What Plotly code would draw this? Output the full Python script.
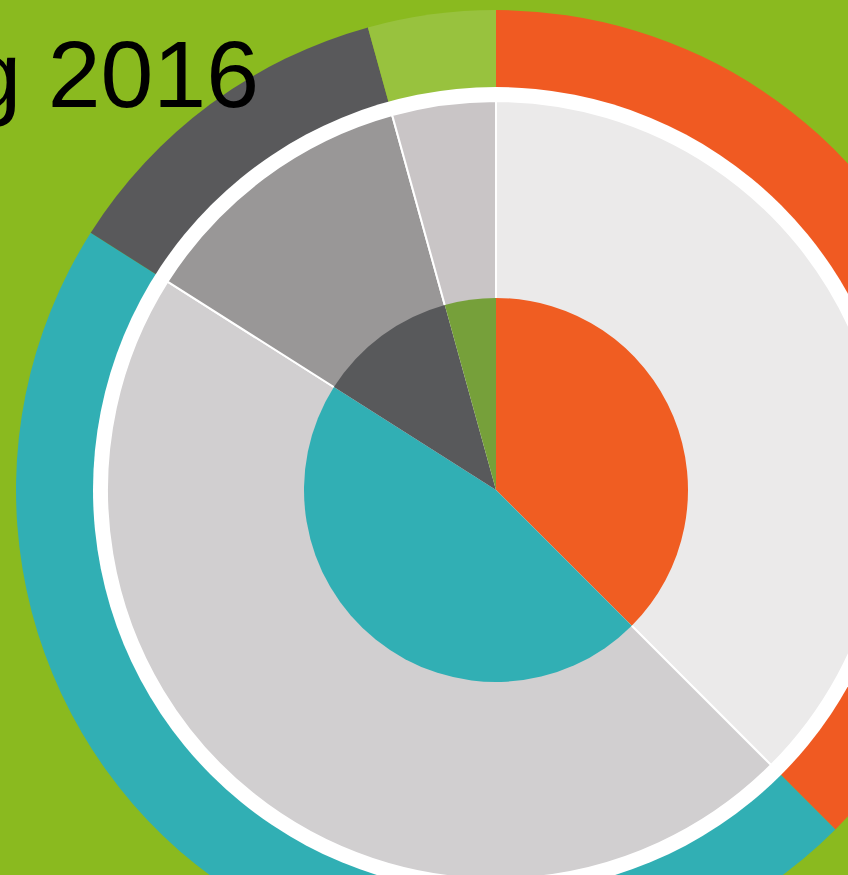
import plotly.graph_objects as go

# Data
categories = ["Orange", "Teal", "Dark grey", "Green"]
values = [37.5, 46.5, 11.7, 4.3]
outer_colors = ["#f05a22", "#31afb4", "#59595b", "#98c23e"]
middle_colors = ["#ebeaea", "#d1cfd0", "#999797", "#c9c5c6"]
inner_colors = ["#f05d22", "#31afb4", "#58595b", "#76a03a"]
title_text = "Funding 2016"

W, H = 1000, 1000
CX, CY = 496, 490  # centre in page pixels (from top-left)


def dom(r):
    return dict(x=[(CX - r) / W, (CX + r) / W],
                y=[(H - CY - r) / H, (H - CY + r) / H])


common = dict(sort=False, direction="clockwise", rotation=0,
              textinfo="none", hoverinfo="skip", showlegend=False)

fig = go.Figure()
fig.add_trace(go.Pie(labels=categories, values=values, domain=dom(480),
                     marker=dict(colors=outer_colors, line=dict(width=0)), **common))
fig.add_trace(go.Pie(labels=["ring"], values=[1], domain=dom(403),
                     marker=dict(colors=["#ffffff"], line=dict(width=0)), **common))
fig.add_trace(go.Pie(labels=categories, values=values, domain=dom(389),
                     marker=dict(colors=middle_colors, line=dict(color="#ffffff", width=2)), **common))
fig.add_trace(go.Pie(labels=categories, values=values, domain=dom(192),
                     marker=dict(colors=inner_colors, line=dict(width=0)), **common))

fig.add_annotation(text=title_text, xref="paper", yref="paper",
                   x=261 / W, y=(H - 74) / H, xanchor="right", yanchor="middle",
                   showarrow=False,
                   font=dict(family="Liberation Sans, Arial", size=95, color="#000000"))

fig.update_layout(width=W, height=H, autosize=False,
                  margin=dict(l=0, r=0, t=0, b=0, pad=0),
                  paper_bgcolor="#8aba1f", plot_bgcolor="#8aba1f")

fig.write_html("out.html", config={"displayModeBar": False, "responsive": False},
               post_script="document.documentElement.style.overflow='hidden';document.body.style.overflow='hidden';document.body.style.margin='0';")
